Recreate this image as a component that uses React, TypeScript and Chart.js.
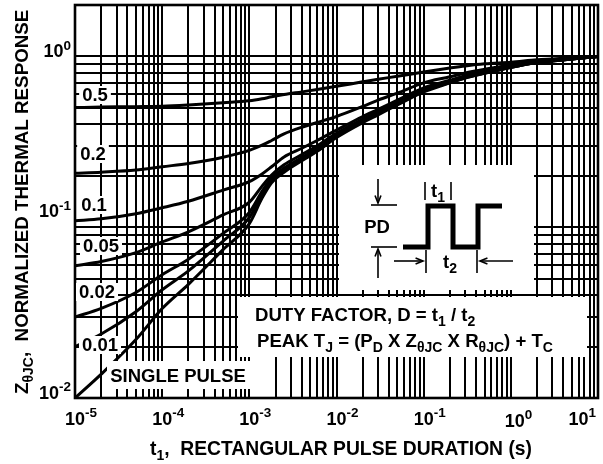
import React, { useEffect, useRef } from 'react';
import { Chart, registerables } from 'chart.js';

Chart.register(...registerables);

// ---- data ----
const pulseDurations = [1e-5, 2e-5, 5e-5, 1e-4, 2e-4, 5e-4, 1e-3, 1.4e-3, 1.8e-3, 2.5e-3, 4e-3, 6e-3, 1e-2, 2e-2, 3e-2, 5e-2, 0.1, 0.2, 0.3, 0.5, 1, 2, 3, 5, 10];

const zDuty050 = [0.502, 0.505, 0.508, 0.511, 0.52, 0.536, 0.55, 0.565, 0.58, 0.598, 0.62, 0.64, 0.668, 0.71, 0.735, 0.765, 0.81, 0.855, 0.88, 0.905, 0.925, 0.955, 0.966, 0.98, 1.0];
const zDuty020 = [0.207, 0.21, 0.216, 0.226, 0.236, 0.257, 0.282, 0.302, 0.322, 0.352, 0.385, 0.41, 0.445, 0.51, 0.555, 0.61, 0.7, 0.76, 0.8, 0.84, 0.89, 0.935, 0.952, 0.97, 1.0];
const zDuty010 = [0.109, 0.112, 0.12, 0.13, 0.142, 0.165, 0.185, 0.205, 0.226, 0.258, 0.29, 0.322, 0.37, 0.445, 0.49, 0.555, 0.655, 0.725, 0.77, 0.815, 0.875, 0.928, 0.946, 0.968, 1.0];
const zDuty005 = [0.0595, 0.063, 0.071, 0.082, 0.094, 0.118, 0.14, 0.174, 0.202, 0.232, 0.266, 0.3, 0.355, 0.43, 0.475, 0.54, 0.64, 0.715, 0.76, 0.806, 0.869, 0.924, 0.943, 0.967, 1.0];
const zDuty002 = [0.0298, 0.0335, 0.0415, 0.0527, 0.065, 0.092, 0.122, 0.162, 0.194, 0.222, 0.256, 0.29, 0.345, 0.42, 0.465, 0.53, 0.63, 0.706, 0.753, 0.8, 0.865, 0.922, 0.942, 0.966, 1.0];
const zDuty001 = [0.02, 0.0237, 0.032, 0.043, 0.0555, 0.083, 0.114, 0.155, 0.188, 0.216, 0.25, 0.284, 0.34, 0.415, 0.46, 0.525, 0.625, 0.703, 0.75, 0.798, 0.864, 0.921, 0.941, 0.966, 1.0];
const zSingle = [0.01, 0.0138, 0.022, 0.0334, 0.0463, 0.0739, 0.105, 0.148, 0.182, 0.21, 0.245, 0.278, 0.335, 0.41, 0.455, 0.52, 0.62, 0.7, 0.748, 0.796, 0.862, 0.92, 0.94, 0.965, 1.0];

const seriesNames = ['0.5', '0.2', '0.1', '0.05', '0.02', '0.01', 'SINGLE PULSE'];
const seriesValues = [zDuty050, zDuty020, zDuty010, zDuty005, zDuty002, zDuty001, zSingle];

const xDecadeExponents = [-5, -4, -3, -2, -1, 0, 1];
const yDecadeExponents = [-2, -1, 0];

const X_MIN = 1e-5;
const X_MAX = 10;
const Y_MIN = 0.01;
const Y_MAX = 2;

const FONT = '"Liberation Sans", Arial, Helvetica, sans-serif';

type Seg = { t: string; s?: 'sub' | 'sup' };

function segFont(seg: Seg, base: number, small: number) {
  return `bold ${seg.s ? small : base}px ${FONT}`;
}

function richWidth(ctx: CanvasRenderingContext2D, segs: Seg[], base: number, small: number) {
  let w = 0;
  for (const s of segs) {
    ctx.font = segFont(s, base, small);
    w += ctx.measureText(s.t).width;
  }
  return w;
}

function drawRich(ctx: CanvasRenderingContext2D, segs: Seg[], x: number, y: number, base: number, small: number, align: 'left' | 'center' | 'right' = 'left') {
  const w = richWidth(ctx, segs, base, small);
  let cx = align === 'left' ? x : align === 'center' ? x - w / 2 : x - w;
  ctx.textAlign = 'left';
  ctx.textBaseline = 'alphabetic';
  for (const s of segs) {
    ctx.font = segFont(s, base, small);
    const dy = s.s === 'sub' ? base * 0.25 : s.s === 'sup' ? -base * 0.42 : 0;
    ctx.fillText(s.t, cx, y + dy);
    cx += ctx.measureText(s.t).width;
  }
  return w;
}

function line(ctx: CanvasRenderingContext2D, x1: number, y1: number, x2: number, y2: number) {
  ctx.beginPath();
  ctx.moveTo(x1, y1);
  ctx.lineTo(x2, y2);
  ctx.stroke();
}

function arrow(ctx: CanvasRenderingContext2D, x1: number, y1: number, x2: number, y2: number) {
  line(ctx, x1, y1, x2, y2);
  const a = Math.atan2(y2 - y1, x2 - x1);
  const L = 8;
  const sp = 0.38;
  ctx.beginPath();
  ctx.moveTo(x2 - L * Math.cos(a - sp), y2 - L * Math.sin(a - sp));
  ctx.lineTo(x2, y2);
  ctx.lineTo(x2 - L * Math.cos(a + sp), y2 - L * Math.sin(a + sp));
  ctx.stroke();
}

const overlay = {
  id: 'overlay',
  beforeDatasetsDraw(chart: any) {
    const { ctx, chartArea: ca, scales } = chart;
    const xs = scales.x;
    const ys = scales.y;
    ctx.save();
    ctx.strokeStyle = '#000';
    ctx.lineWidth = 2;
    // vertical grid: every 1..9 x 10^n
    for (let e = -5; e <= 0; e++) {
      for (let m = 1; m <= 9; m++) {
        const px = Math.round(xs.getPixelForValue(m * Math.pow(10, e)));
        line(ctx, px, ca.top, px, ca.bottom);
      }
    }
    // horizontal grid
    for (let e = -2; e <= -1; e++) {
      for (let m = 1; m <= 9; m++) {
        const py = Math.round(ys.getPixelForValue(m * Math.pow(10, e)));
        line(ctx, ca.left, py, ca.right, py);
      }
    }
    const p1 = Math.round(ys.getPixelForValue(1));
    line(ctx, ca.left, p1, ca.right, p1);
    // border
    ctx.lineWidth = 2.6;
    ctx.strokeRect(ca.left, ca.top, ca.right - ca.left, ca.bottom - ca.top);
    ctx.restore();
  },
  afterDatasetsDraw(chart: any) {
    const { ctx, chartArea: ca, scales } = chart;
    const xs = scales.x;
    const ys = scales.y;
    ctx.save();
    ctx.fillStyle = '#fff';

    // inset boxes (white, covering grid)
    ctx.fillRect(339, 165, 195, 125); // pulse diagram box
    ctx.fillRect(238, 297, 349, 60); // duty factor box
    ctx.fillRect(107, 361, 143, 28); // single pulse box

    // curve labels with white backgrounds
    const labelPos: [number, number][] = [
      [95, 95],
      [93, 154],
      [94, 205],
      [101, 246],
      [97, 292],
      [100, 345],
      [178, 376],
    ];
    ctx.font = `bold 18.5px ${FONT}`;
    seriesNames.forEach((name, i) => {
      const [cx, cy] = labelPos[i];
      const w = ctx.measureText(name).width;
      ctx.fillStyle = '#fff';
      ctx.fillRect(cx - w / 2 - 3, cy - 9, w + 6, 18);
      ctx.fillStyle = '#000';
      ctx.textAlign = 'center';
      ctx.textBaseline = 'middle';
      ctx.fillText(name, cx, cy + 1);
    });

    ctx.fillStyle = '#000';
    ctx.strokeStyle = '#000';

    // x tick labels
    xDecadeExponents.forEach((e) => {
      const px = xs.getPixelForValue(Math.pow(10, e));
      ctx.font = `bold 18px ${FONT}`;
      const w10 = ctx.measureText('10').width;
      const segs: Seg[] = [{ t: '10' }, { t: String(e), s: 'sup' }];
      const total = richWidth(ctx, segs, 18, 13.5);
      let left = px - w10 / 2;
      if (e === 0) left += 4;
      if (left + total > ca.right - 2) left = ca.right - 2 - total;
      drawRich(ctx, segs, left, 425 + (e === 0 ? 2 : 0), 18, 13.5, 'left');
    });

    // y tick labels
    yDecadeExponents.forEach((e) => {
      const py = ys.getPixelForValue(Math.pow(10, e));
      const segs: Seg[] = [{ t: '10' }, { t: String(e), s: 'sup' }];
      const base = e === -1 ? py - 10 : py + 1;
      drawRich(ctx, segs, 71, base, 18, 13.5, 'right');
    });

    // x axis title
    drawRich(ctx, [{ t: 't' }, { t: '1', s: 'sub' }, { t: ',  RECTANGULAR PULSE DURATION (s)' }], 150, 455, 19.3, 14, 'left');

    // y axis title (rotated)
    ctx.save();
    ctx.translate(28, 394);
    ctx.rotate(-Math.PI / 2);
    drawRich(ctx, [{ t: 'Z' }, { t: 'θJC', s: 'sub' }, { t: ',  NORMALIZED THERMAL RESPONSE' }], 0, 0, 18.8, 14, 'left');
    ctx.restore();

    // duty factor text
    drawRich(ctx, [{ t: 'DUTY FACTOR, D = t' }, { t: '1', s: 'sub' }, { t: ' / t' }, { t: '2', s: 'sub' }], 255, 321, 18.6, 14, 'left');
    drawRich(ctx, [
      { t: 'PEAK T' }, { t: 'J', s: 'sub' }, { t: ' = (P' }, { t: 'D', s: 'sub' }, { t: ' X Z' }, { t: 'θJC', s: 'sub' },
      { t: ' X R' }, { t: 'θJC', s: 'sub' }, { t: ') + T' }, { t: 'C', s: 'sub' },
    ], 257, 347, 18.6, 14, 'left');

    // pulse diagram
    ctx.lineWidth = 5;
    ctx.lineJoin = 'miter';
    ctx.lineCap = 'butt';
    ctx.beginPath();
    ctx.moveTo(403, 247);
    ctx.lineTo(428, 247);
    ctx.lineTo(428, 206);
    ctx.lineTo(453, 206);
    ctx.lineTo(453, 247);
    ctx.lineTo(478, 247);
    ctx.lineTo(478, 206);
    ctx.lineTo(502, 206);
    ctx.stroke();

    ctx.lineWidth = 1.6;
    // PD markers
    line(ctx, 371, 205, 397, 205);
    line(ctx, 371, 247, 397, 247);
    arrow(ctx, 378, 179, 378, 203);
    arrow(ctx, 378, 278, 378, 249);
    drawRich(ctx, [{ t: 'PD' }], 377, 233, 18.5, 13, 'center');
    // t1
    line(ctx, 425, 182, 425, 200);
    line(ctx, 451, 182, 451, 200);
    drawRich(ctx, [{ t: 't' }, { t: '1', s: 'sub' }], 438, 197, 18.5, 14, 'center');
    // t2
    line(ctx, 426, 250, 426, 273);
    line(ctx, 477, 250, 477, 273);
    arrow(ctx, 394, 261, 423, 261);
    arrow(ctx, 513, 261, 480, 261);
    drawRich(ctx, [{ t: 't' }, { t: '2', s: 'sub' }], 450, 268, 18.5, 14, 'center');

    ctx.restore();
  },
};

export default function App() {
  const ref = useRef<HTMLCanvasElement>(null);
  useEffect(() => {
    document.body.style.margin = '0';
    const canvas = ref.current!;
    const chart = new Chart(canvas, {
      type: 'line',
      data: {
        datasets: seriesValues.map((vals, i) => ({
          label: seriesNames[i],
          data: pulseDurations.map((t, j) => ({ x: t, y: vals[j] })),
          borderColor: '#000',
          backgroundColor: '#000',
          borderWidth: 3,
          pointRadius: 0,
          fill: false,
          cubicInterpolationMode: 'monotone' as const,
        })),
      },
      options: {
        animation: false,
        responsive: false,
        devicePixelRatio: 1,
        layout: { padding: { left: 75, right: 5, top: 5, bottom: 66 } },
        plugins: {
          legend: { display: false },
          tooltip: { enabled: false },
          title: { display: false },
        },
        scales: {
          x: { type: 'logarithmic', display: false, min: X_MIN, max: X_MAX },
          y: { type: 'logarithmic', display: false, min: Y_MIN, max: Y_MAX },
        },
      },
      plugins: [overlay],
    });
    return () => chart.destroy();
  }, []);
  return <canvas ref={ref} width={603} height={464} style={{ display: 'block' }} />;
}
